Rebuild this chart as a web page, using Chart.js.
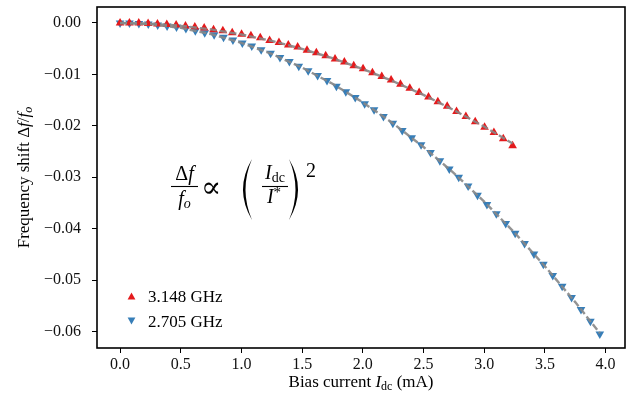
<!DOCTYPE html>
<html>
<head>
<meta charset="utf-8">
<script src="https://cdn.jsdelivr.net/npm/chart.js@4.4.0/dist/chart.umd.min.js"></script>
<style>
  html, body { margin: 0; padding: 0; background: #fff; }
  #wrap { width: 636px; height: 402px; }
</style>
</head>
<body>
<div id="wrap"><canvas id="chart" width="636" height="402"></canvas></div>
<script>
// Frequency shift vs bias current, two resonances + quadratic fits

const xTickValues = [0, 0.5, 1.0, 1.5, 2.0, 2.5, 3.0, 3.5, 4.0];
const yTickValues = [0, -0.01, -0.02, -0.03, -0.04, -0.05, -0.06];

const seriesLabels = ['3.148 GHz', '2.705 GHz'];

// 3.148 GHz (red, up triangles)
const redX = [0, 0.077, 0.154, 0.231, 0.308, 0.385, 0.462, 0.539, 0.616, 0.693,
    0.770, 0.847, 0.924, 1.001, 1.078, 1.155, 1.232, 1.309, 1.386, 1.463,
    1.540, 1.617, 1.694, 1.771, 1.848, 1.925, 2.002, 2.079, 2.156, 2.233,
    2.310, 2.387, 2.464, 2.541, 2.618, 2.695, 2.772, 2.849, 2.926, 3.003,
    3.080, 3.157, 3.234];
const redY = [0.0000, 0.0000, 0.0000, -0.0001, -0.0002, -0.0003, -0.0004, -0.0006, -0.0008, -0.0010,
    -0.0013, -0.0015, -0.0019, -0.0022, -0.0025, -0.0029, -0.0034, -0.0038, -0.0043, -0.0047,
    -0.0053, -0.0058, -0.0064, -0.0070, -0.0076, -0.0083, -0.0089, -0.0097, -0.0104, -0.0111,
    -0.0119, -0.0127, -0.0135, -0.0144, -0.0153, -0.0162, -0.0172, -0.0182, -0.0192, -0.0203,
    -0.0213, -0.0225, -0.0239];

// 2.705 GHz (blue, down triangles)
const blueX = [0, 0.0775, 0.155, 0.2325, 0.31, 0.3875, 0.465, 0.5425, 0.62, 0.6975,
    0.775, 0.8525, 0.93, 1.0075, 1.085, 1.1625, 1.24, 1.3175, 1.395, 1.4725,
    1.55, 1.6275, 1.705, 1.7825, 1.86, 1.9375, 2.015, 2.0925, 2.17, 2.2475,
    2.325, 2.4025, 2.48, 2.5575, 2.635, 2.7125, 2.79, 2.8675, 2.945, 3.0225,
    3.1, 3.1775, 3.255, 3.3325, 3.41, 3.4875, 3.565, 3.6425, 3.72, 3.7975,
    3.875, 3.9525];
const blueY = [0.0000, 0.0000, -0.0001, -0.0002, -0.0004, -0.0006, -0.0008, -0.0011, -0.0015, -0.0019,
    -0.0023, -0.0028, -0.0033, -0.0039, -0.0045, -0.0052, -0.0059, -0.0067, -0.0075, -0.0084,
    -0.0093, -0.0102, -0.0112, -0.0123, -0.0134, -0.0145, -0.0157, -0.0169, -0.0182, -0.0195,
    -0.0209, -0.0223, -0.0237, -0.0252, -0.0268, -0.0284, -0.0300, -0.0317, -0.0335, -0.0353,
    -0.0371, -0.0390, -0.0409, -0.0429, -0.0449, -0.0469, -0.0491, -0.0512, -0.0534, -0.0557,
    -0.0580, -0.0605];

// quadratic fits (gray dashed)
const redFitX = [0, 0.25, 0.5, 0.75, 1.0, 1.25, 1.5, 1.75, 2.0, 2.25, 2.5, 2.75, 3.0, 3.234];
const redFitY = [0, -0.00014, -0.00056, -0.00126, -0.00224, -0.0035, -0.00504, -0.00686,
    -0.00896, -0.01134, -0.0140, -0.01694, -0.02016, -0.02343];
const blueFitX = [0, 0.25, 0.5, 0.75, 1.0, 1.25, 1.5, 1.75, 2.0, 2.25, 2.5, 2.75, 3.0, 3.25, 3.5, 3.75, 3.953];
const blueFitY = [0, -0.00024, -0.00097, -0.00217, -0.00386, -0.00603, -0.00869, -0.01182,
    -0.01544, -0.01954, -0.02413, -0.02919, -0.03474, -0.04077, -0.04729, -0.05428, -0.06032];

const RED = '#e41a1c';
const BLUE = '#377eb8';
const FIT = 'rgba(135,135,135,0.9)';
const SERIF = '"Liberation Serif", "DejaVu Serif", serif';

function toPoints(xs, ys) {
    return xs.map((x, i) => ({ x: x, y: ys[i] }));
}

function fmtY(v) {
    if (Math.abs(v) < 1e-9) return '0.00';
    return v.toFixed(2).replace('-', '\u2212');
}

// draw a list of text runs left to right, returns end x
function drawRuns(ctx, runs, x, y) {
    runs.forEach(r => {
        ctx.font = r.font;
        ctx.fillText(r.t, x, y + (r.dy || 0));
        x += ctx.measureText(r.t).width;
    });
    return x;
}

function runsWidth(ctx, runs) {
    let w = 0;
    runs.forEach(r => {
        ctx.font = r.font;
        w += ctx.measureText(r.t).width;
    });
    return w;
}

function drawCentered(ctx, runs, cx, y) {
    const w = runsWidth(ctx, runs);
    drawRuns(ctx, runs, cx - w / 2, y);
}

function triangle(ctx, x, y, r, down, color) {
    ctx.save();
    ctx.fillStyle = color;
    ctx.beginPath();
    if (down) {
        ctx.moveTo(x - r, y - r * 0.9);
        ctx.lineTo(x + r, y - r * 0.9);
        ctx.lineTo(x, y + r * 0.9);
    } else {
        ctx.moveTo(x - r, y + r * 0.9);
        ctx.lineTo(x + r, y + r * 0.9);
        ctx.lineTo(x, y - r * 0.9);
    }
    ctx.closePath();
    ctx.fill();
    ctx.restore();
}

function paren(ctx, x0, y0, y1, outer, inner) {
    // filled crescent, thin at the ends; outer/inner are the mid offsets
    const my = (y0 + y1) / 2;
    ctx.beginPath();
    ctx.moveTo(x0, y0);
    ctx.quadraticCurveTo(x0 + outer * 2, my, x0, y1);
    ctx.quadraticCurveTo(x0 + inner * 2, my, x0, y0);
    ctx.closePath();
    ctx.fill();
}

const decorPlugin = {
    id: 'decor',
    afterDraw(chart) {
        const ctx = chart.ctx;
        const a = chart.chartArea;
        ctx.save();

        // frame
        ctx.strokeStyle = '#000';
        ctx.lineWidth = 1.6;
        ctx.strokeRect(a.left, a.top, a.right - a.left, a.bottom - a.top);

        ctx.fillStyle = '#000';
        ctx.textAlign = 'left';
        ctx.textBaseline = 'alphabetic';

        const rom = s => s + 'px ' + SERIF;
        const ita = s => 'italic ' + s + 'px ' + SERIF;

        // x axis title
        drawCentered(ctx, [
            { t: 'Bias current ', font: rom(17) },
            { t: 'I', font: ita(17) },
            { t: 'dc', font: rom(12), dy: 3 },
            { t: ' (mA)', font: rom(17) }
        ], (a.left + a.right) / 2, 387);

        // y axis title
        ctx.save();
        ctx.translate(29, (a.top + a.bottom) / 2);
        ctx.rotate(-Math.PI / 2);
        drawCentered(ctx, [
            { t: 'Frequency shift ', font: rom(17) },
            { t: '\u0394', font: rom(17) },
            { t: 'f', font: ita(17) },
            { t: '/', font: rom(17) },
            { t: 'f', font: ita(17) },
            { t: 'o', font: ita(12), dy: 3 }
        ], 0, 0);
        ctx.restore();

        // legend
        const ds = chart.data.datasets;
        const legendRows = [
            { label: ds[2].label, color: ds[2].backgroundColor, down: false, y: 296 },
            { label: ds[3].label, color: ds[3].backgroundColor, down: true, y: 321 }
        ];
        legendRows.forEach(row => {
            triangle(ctx, 131.5, row.y, 3.9, row.down, row.color);
            ctx.font = rom(17);
            ctx.fillText(row.label, 148, row.y + 6);
        });

        // formula  Δf/fo ∝ (Idc/I*)^2
        ctx.lineWidth = 1.1;
        drawCentered(ctx, [
            { t: '\u0394', font: rom(20) },
            { t: 'f', font: ita(20) }
        ], 184.5, 180);
        ctx.beginPath();
        ctx.moveTo(171, 186.5);
        ctx.lineTo(198, 186.5);
        ctx.stroke();
        drawCentered(ctx, [
            { t: 'f', font: ita(20) },
            { t: 'o', font: ita(14), dy: 3 }
        ], 184.5, 205);

        ctx.font = rom(30);
        ctx.fillText('\u221D', 201, 197);

        paren(ctx, 252, 159, 220, -9, -6.5);
        drawCentered(ctx, [
            { t: 'I', font: ita(20) },
            { t: 'dc', font: rom(14), dy: 3 }
        ], 275, 179);
        ctx.beginPath();
        ctx.moveTo(262, 186.5);
        ctx.lineTo(288, 186.5);
        ctx.stroke();
        drawCentered(ctx, [
            { t: 'I', font: ita(20) },
            { t: '*', font: rom(15), dy: -6 }
        ], 274, 203);
        paren(ctx, 289, 159, 220, 9, 6.5);

        ctx.font = rom(20);
        ctx.fillText('2', 306, 177);

        ctx.restore();
    }
};

function noEdgePadding(scale) {
    scale.paddingTop = 0;
    scale.paddingBottom = 0;
    scale.paddingLeft = 0;
    scale.paddingRight = 0;
}

new Chart(document.getElementById('chart'), {
    type: 'scatter',
    data: {
        datasets: [
            {
                label: 'fit 3.148',
                data: toPoints(redFitX, redFitY),
                showLine: true,
                borderColor: FIT,
                borderWidth: 2.4,
                borderDash: [7, 3],
                pointRadius: 0,
                fill: false,
                order: 0
            },
            {
                label: 'fit 2.705',
                data: toPoints(blueFitX, blueFitY),
                showLine: true,
                borderColor: FIT,
                borderWidth: 2.4,
                borderDash: [7, 3],
                pointRadius: 0,
                fill: false,
                order: 0
            },
            {
                label: seriesLabels[0],
                data: toPoints(redX, redY),
                backgroundColor: RED,
                borderColor: RED,
                borderWidth: 0,
                pointStyle: 'triangle',
                pointRadius: 5,
                order: 1
            },
            {
                label: seriesLabels[1],
                data: toPoints(blueX, blueY),
                backgroundColor: BLUE,
                borderColor: BLUE,
                borderWidth: 0,
                pointStyle: 'triangle',
                rotation: 180,
                pointRadius: 5,
                order: 1
            }
        ]
    },
    options: {
        responsive: false,
        animation: false,
        layout: { padding: { top: 7, right: 11, left: 0, bottom: 0 } },
        plugins: {
            legend: { display: false },
            tooltip: { enabled: false }
        },
        scales: {
            x: {
                type: 'linear',
                min: -0.19,
                max: 4.16,
                afterBuildTicks: scale => { scale.ticks = xTickValues.map(v => ({ value: v })); },
                afterFit: scale => { scale.height = 54; noEdgePadding(scale); },
                border: { display: false },
                grid: {
                    drawOnChartArea: false,
                    drawTicks: true,
                    tickLength: 5,
                    tickColor: '#000',
                    tickWidth: 1
                },
                ticks: {
                    padding: 2,
                    color: '#111',
                    font: { family: SERIF, size: 16 },
                    callback: v => v.toFixed(1)
                }
            },
            y: {
                type: 'linear',
                min: -0.0632,
                max: 0.0031,
                afterBuildTicks: scale => { scale.ticks = yTickValues.map(v => ({ value: v })); },
                afterFit: scale => { scale.width = 97; noEdgePadding(scale); },
                border: { display: false },
                grid: {
                    drawOnChartArea: false,
                    drawTicks: true,
                    tickLength: 5,
                    tickColor: '#000',
                    tickWidth: 1
                },
                ticks: {
                    padding: 11,
                    color: '#111',
                    font: { family: SERIF, size: 16 },
                    callback: v => fmtY(v)
                }
            }
        }
    },
    plugins: [decorPlugin]
});
</script>
</body>
</html>
